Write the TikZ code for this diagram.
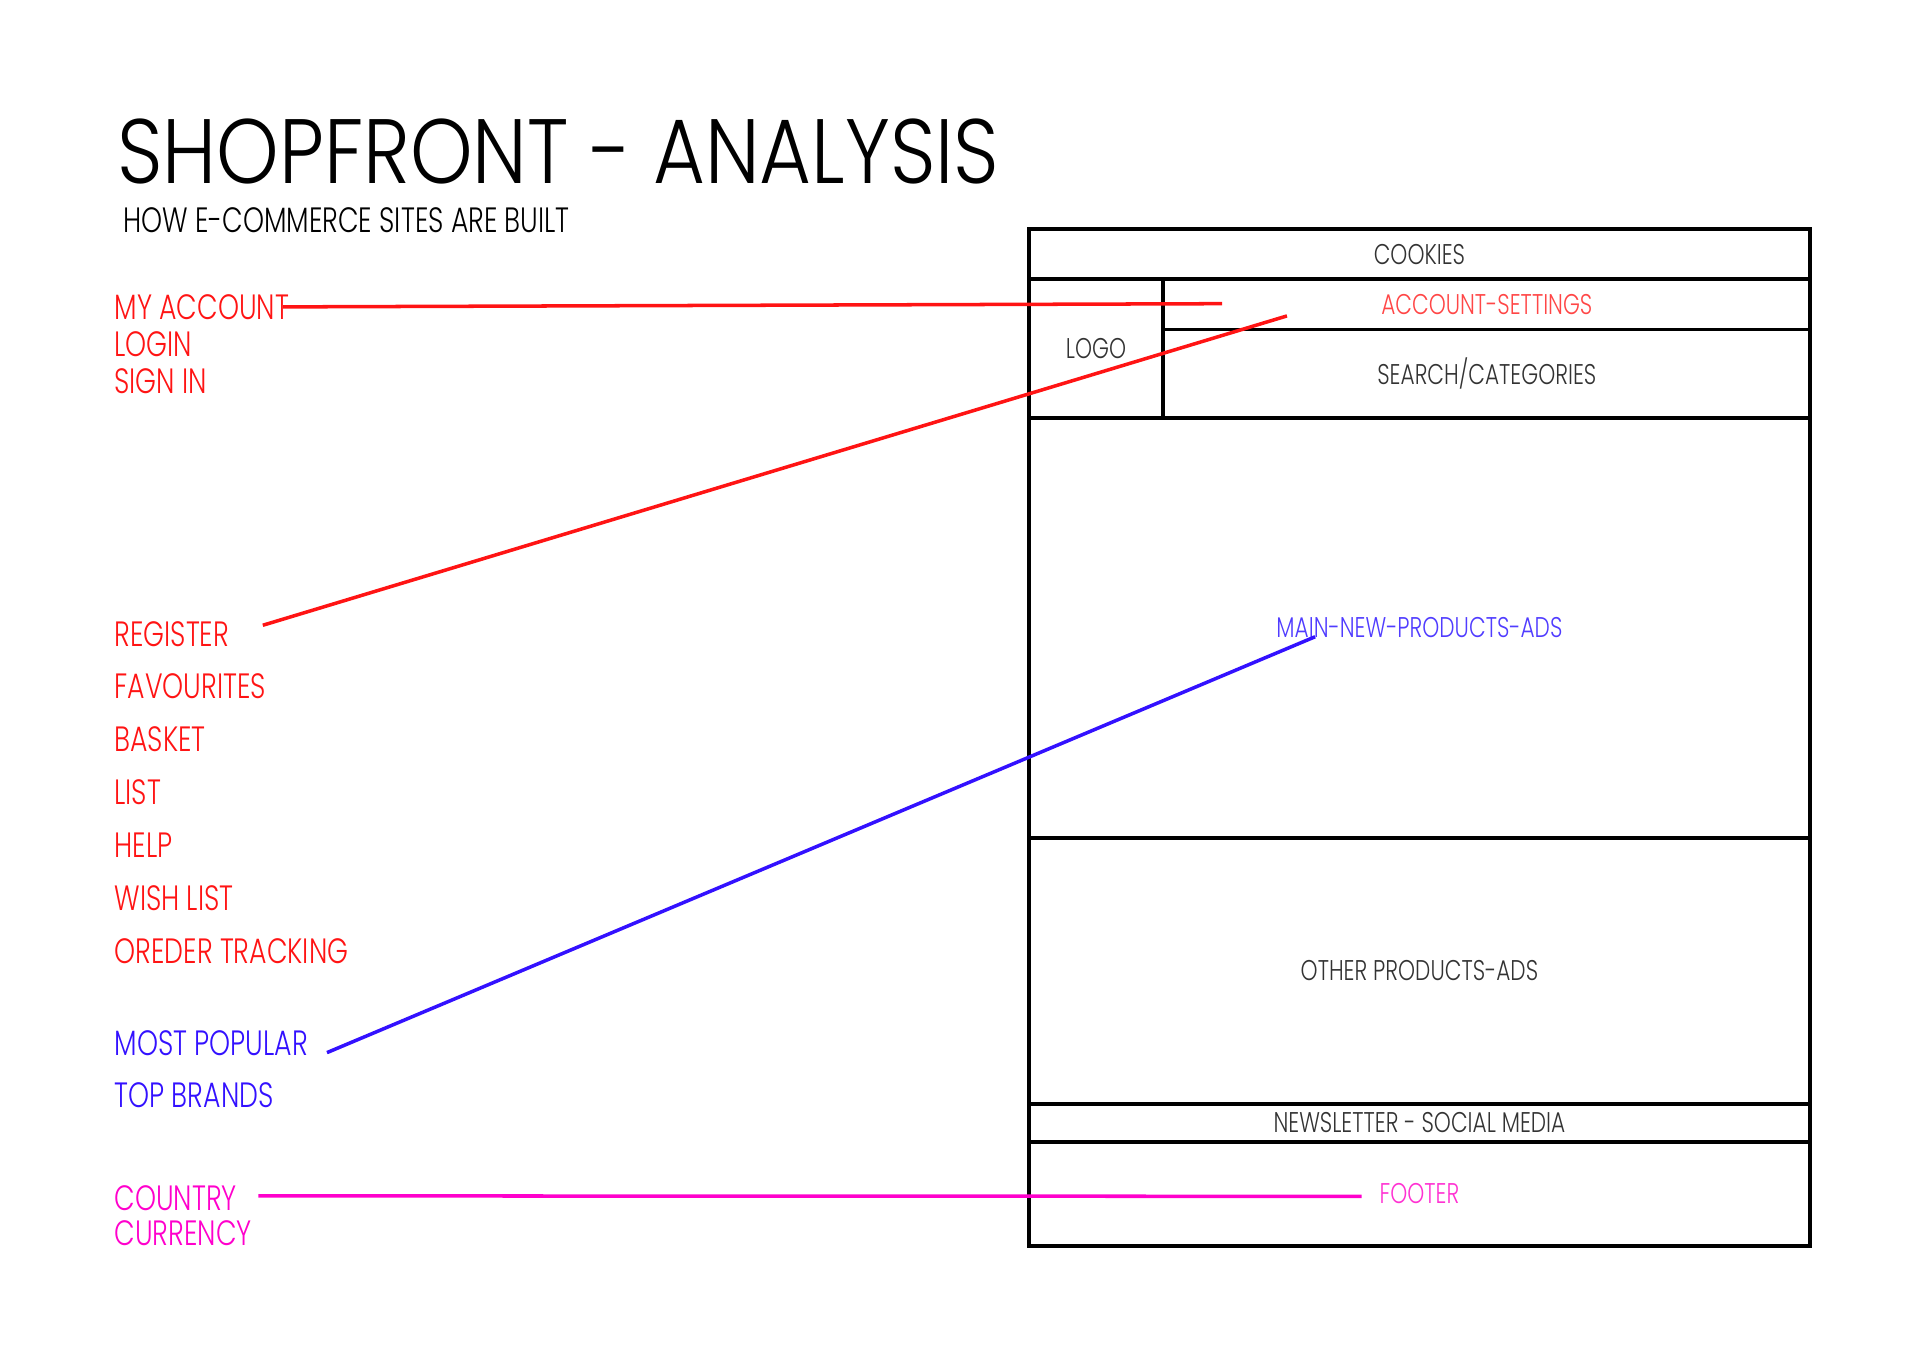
\documentclass[tikz,border=0pt]{standalone}
\usepackage{fontspec}
\setmainfont{Poppins}[UprightFont=* Light, FakeStretch=0.76]
\newfontfamily\titlefont{Poppins}[UprightFont=* Light, FakeStretch=0.87]
\usetikzlibrary{positioning}
\definecolor{shopred}{RGB}{255,20,20}
\definecolor{accred}{RGB}{255,70,70}
\definecolor{shopblue}{RGB}{51,17,255}
\definecolor{mainblue}{RGB}{80,60,255}
\definecolor{shoppink}{RGB}{255,0,204}
\definecolor{footpink}{RGB}{255,50,210}

\begin{document}
\begin{tikzpicture}[
  x=0.012245cm, y=-0.012245cm,
  title/.style={anchor=base west, inner sep=0pt, text depth=0pt,
                font=\titlefont\fontsize{26}{30}\selectfont},
  sub/.style={anchor=base west, inner sep=0pt, font=\fontsize{10}{12}\selectfont},
  lbl/.style={inner sep=0pt, text height=7pt, text depth=0pt,
              font=\fontsize{10}{12}\selectfont, anchor=north west},
  panel/.style={rectangle, draw=black, line width=1.1pt, inner sep=0pt,
                outer sep=0pt, font=\fontsize{8.1}{10}\selectfont,
                text=black!80, anchor=north west},
  link/.style={line width=1pt},
]
  \useasboundingbox (0,0) rectangle (1568,1109);

  % heading
  \node[title] (head) at (95,150) {SHOPFRONT - ANALYSIS};
  \node[sub] (subhead) at (100,190) {HOW E-COMMERCE SITES ARE BUILT};

  % wireframe of the page
  \node[panel, minimum width=7.812cm, minimum height=0.502cm] (cookies) at (840,187) {COOKIES};
  \node[panel, minimum width=1.347cm, minimum height=1.384cm] (logo) at (cookies.south west) {LOGO};
  \node[panel, minimum width=6.465cm, minimum height=0.502cm, text=accred] (accset) at (logo.north east) {ACCOUNT-SETTINGS};
  \node[panel, minimum width=6.465cm, minimum height=0.882cm] (search) at (accset.south west) {SEARCH/CATEGORIES};
  \node[panel, minimum width=7.812cm, minimum height=4.2cm, text=mainblue] (mainads) at (logo.south west) {MAIN-NEW-PRODUCTS-ADS};
  \node[panel, minimum width=7.812cm, minimum height=2.657cm] (otherads) at (mainads.south west) {OTHER PRODUCTS-ADS};
  \node[panel, minimum width=7.812cm, minimum height=0.38cm] (news) at (otherads.south west) {NEWSLETTER - SOCIAL MEDIA};
  \node[panel, minimum width=7.812cm, minimum height=1.041cm, text=footpink] (footer) at (news.south west) {FOOTER};

  % account group
  \node[lbl, text=shopred] (myacc) at (93,240) {MY ACCOUNT};
  \node[lbl, text=shopred, below=0.11cm of myacc.south west, anchor=north west] (login) {LOGIN};
  \node[lbl, text=shopred, below=0.11cm of login.south west, anchor=north west] (signin) {SIGN IN};

  % user tools
  \node[lbl, text=shopred] (reg) at (93,507) {REGISTER};
  \node[lbl, text=shopred, below=0.268cm of reg.south west, anchor=north west] (fav) {FAVOURITES};
  \node[lbl, text=shopred, below=0.268cm of fav.south west, anchor=north west] (basket) {BASKET};
  \node[lbl, text=shopred, below=0.268cm of basket.south west, anchor=north west] (list) {LIST};
  \node[lbl, text=shopred, below=0.268cm of list.south west, anchor=north west] (help) {HELP};
  \node[lbl, text=shopred, below=0.268cm of help.south west, anchor=north west] (wish) {WISH LIST};
  \node[lbl, text=shopred, below=0.268cm of wish.south west, anchor=north west] (track) {OREDER TRACKING};

  % product groups
  \node[lbl, text=shopblue] (popular) at (93,841) {MOST POPULAR};
  \node[lbl, text=shopblue, below=0.268cm of popular.south west, anchor=north west] (brands) {TOP BRANDS};

  % locale
  \node[lbl, text=shoppink] (country) at (93,968) {COUNTRY};
  \node[lbl, text=shoppink, below=0.09cm of country.south west, anchor=north west] (currency) {CURRENCY};

  % line ends inside the wireframe
  \coordinate (accset-tip) at (998,248);
  \coordinate (reg-tip) at (1051,258);
  \coordinate (main-tip) at (1074,520);
  \coordinate (footer-tip) at (1112,977);

  \draw[link, shopred] ([xshift=-2pt]myacc.east) -- (accset-tip);
  \draw[link, shopred] ([shift={(27,-7)}]reg.east) -- (reg-tip);
  \draw[link, shopblue] ([shift={(15,8)}]popular.east) -- (main-tip);
  \draw[link, shoppink] ([shift={(17,-2)}]country.east) -- (footer-tip);
\end{tikzpicture}
\end{document}
